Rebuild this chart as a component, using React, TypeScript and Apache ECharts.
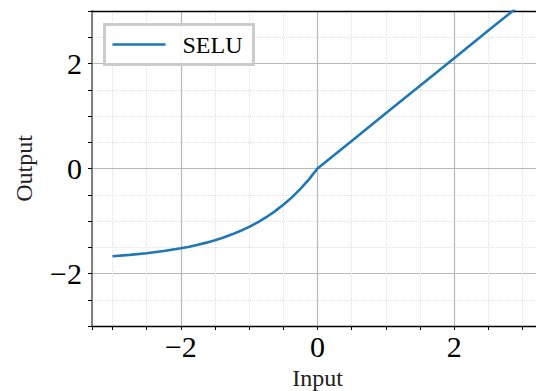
import React, { useEffect, useRef } from "react";
import * as echarts from "echarts";

// Input values (x) and SELU output values (y)
const inputs = [
  -3.0, -2.75, -2.5, -2.25, -2.0, -1.875, -1.75, -1.625, -1.5, -1.375, -1.25, -1.125,
  -1.0, -0.875, -0.75, -0.625, -0.5, -0.375, -0.25, -0.125, 0.0, 0.5, 1.0, 1.5, 2.0,
  2.5, 3.0,
];
const outputs = [
  -1.671, -1.646, -1.614, -1.573, -1.52, -1.489, -1.453, -1.412, -1.366, -1.314,
  -1.254, -1.187, -1.111, -1.025, -0.928, -0.817, -0.692, -0.55, -0.389, -0.207, 0.0,
  0.525, 1.051, 1.576, 2.101, 2.627, 3.152,
];
const seriesName = "SELU";
const xTitle = "Input";
const yTitle = "Output";
const majorTicks = [-2, 0, 2];

const FONT = "Liberation Serif";

const fmt = (v: number) => {
  const r = Math.round(v * 1000) / 1000;
  if (!majorTicks.includes(r)) return "";
  return r < 0 ? "\u2212" + Math.abs(r) : String(r);
};

export default function App() {
  const ref = useRef<HTMLDivElement>(null);
  useEffect(() => {
    if (!ref.current) return;
    const chart = echarts.init(ref.current, null, { renderer: "svg" });
    const data = inputs.map((x, i) => [x, outputs[i]]);
    chart.setOption({
      animation: false,
      backgroundColor: "#ffffff",
      grid: {
        left: 92,
        top: 11,
        right: -7,
        bottom: 65,
        containLabel: false,
        outerBoundsMode: "none",
      },
      legend: {
        show: true,
        left: 104.5,
        top: 24.5,
        orient: "vertical",
        padding: [8, 11, 8, 8],
        borderColor: "#cccccc",
        borderWidth: 3,
        backgroundColor: "rgba(255,255,255,0.85)",
        itemWidth: 53,
        itemHeight: 2.6,
        data: [{ name: seriesName, icon: "rect" }],
        textStyle: {
          fontFamily: FONT,
          fontSize: 24,
          color: "#000",
          padding: [0, 0, 0, 12],
        },
      },
      xAxis: [
        {
          type: "value",
          position: "bottom",
          min: -3.3,
          max: 3.3,
          splitNumber: 3,
          name: xTitle,
          nameLocation: "middle",
          nameGap: 39,
          nameTextStyle: { fontFamily: FONT, fontSize: 24, color: "#222" },
          axisLine: { show: true, onZero: false, lineStyle: { color: "#000", width: 1.3 } },
          axisTick: { show: true, length: 4, lineStyle: { color: "#000", width: 1 } },
          minorTick: { show: true, splitNumber: 4, length: 4, lineStyle: { color: "#000", width: 1 } },
          splitLine: { show: true, lineStyle: { color: "#b8b8b8", width: 1.2 } },
          minorSplitLine: { show: true, lineStyle: { color: "#e2e2e2", width: 1, type: "dotted" } },
          axisLabel: {
            formatter: fmt,
            fontFamily: FONT,
            fontSize: 30,
            color: "#000",
            margin: 5,
            showMinLabel: false,
            showMaxLabel: false,
          },
        },
        {
          type: "value",
          position: "top",
          min: -3.3,
          max: 3.3,
          splitNumber: 3,
          axisLine: { show: true, onZero: false, lineStyle: { color: "#000", width: 1.3 } },
          axisTick: { show: false },
          axisLabel: { show: false },
          splitLine: { show: false },
        },
      ],
      yAxis: [
        {
          type: "value",
          position: "left",
          min: -3,
          max: 3,
          splitNumber: 3,
          name: yTitle,
          nameLocation: "middle",
          nameGap: 56,
          nameRotate: 90,
          nameTextStyle: { fontFamily: FONT, fontSize: 24, color: "#222" },
          axisLine: { show: true, onZero: false, lineStyle: { color: "#808080", width: 2 } },
          axisTick: { show: true, length: 4, lineStyle: { color: "#000", width: 1 } },
          minorTick: { show: true, splitNumber: 4, length: 4, lineStyle: { color: "#000", width: 1 } },
          splitLine: { show: true, lineStyle: { color: "#b8b8b8", width: 1.2 } },
          minorSplitLine: { show: true, lineStyle: { color: "#e2e2e2", width: 1, type: "dotted" } },
          axisLabel: {
            formatter: fmt,
            fontFamily: FONT,
            fontSize: 30,
            color: "#000",
            margin: 10,
            showMinLabel: false,
            showMaxLabel: false,
          },
        },
      ],
      series: [
        {
          name: seriesName,
          type: "line",
          data,
          xAxisIndex: 0,
          yAxisIndex: 0,
          symbol: "none",
          showSymbol: false,
          clip: true,
          color: "#1f77b4",
          lineStyle: { color: "#1f77b4", width: 2.6 },
        },
      ],
    });
    return () => chart.dispose();
  }, []);
  return (
    <div
      ref={ref}
      style={{ position: "fixed", left: 0, top: 0, width: 536, height: 391 }}
    />
  );
}
